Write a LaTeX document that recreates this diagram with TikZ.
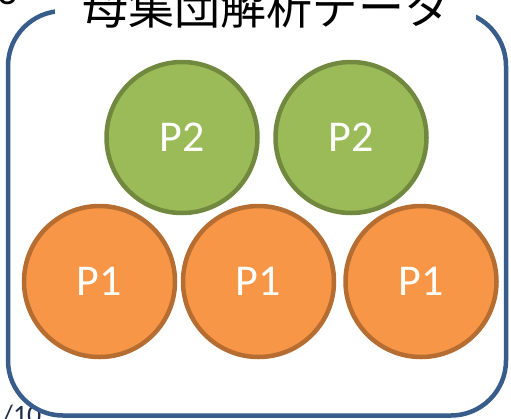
\documentclass[tikz,border=0pt]{standalone}
\usepackage{fontspec}
\newfontfamily\cjkfont{Noto Sans CJK JP}
\newfontfamily\califont{Carlito}
\definecolor{frameblue}{HTML}{385D8A}
\definecolor{gfill}{HTML}{9BBB59}
\definecolor{gline}{HTML}{71893F}
\definecolor{ofill}{HTML}{F79646}
\definecolor{oline}{HTML}{B66D31}
\definecolor{pagenum}{HTML}{1F2D4D}
\tikzset{
  ball/.style={circle, minimum size=151pt, inner sep=0pt, line width=4.5pt,
    text=white, font=\califont\fontsize{44}{48}\selectfont},
  pball/.style={ball, fill=ofill, draw=oline},
  gball/.style={ball, fill=gfill, draw=gline},
}
\begin{document}
\begin{tikzpicture}[x=1pt,y=-1pt]
\useasboundingbox (0,0) rectangle (511,418);
\fill[white] (0,0) rectangle (511,418);
% partial page texts
\node[anchor=base west, inner sep=0pt, font=\califont\fontsize{40}{44}\selectfont] (pg3) at (-3,4) {3};
\node[anchor=base west, inner sep=0pt, text=pagenum, font=\califont\fontsize{28}{32}\selectfont] (pg10) at (2,424) {/10};
% frame
\draw[frameblue, line width=4.5pt, rounded corners=55pt] (8,11) rectangle (506,415.5);
% title box
\fill[white] (55,-10) rectangle (476,26);
\node[anchor=base, inner sep=0pt, font=\cjkfont\fontsize{46}{50}\selectfont] (title) at (266.5,24) {母集団解析データ};
% circles
\node[gball] (g1) at (182,137.5) {P2};
\node[gball] (g2) at (351,137.5) {P2};
\node[pball] (o1) at (99.5,281.5) {P1};
\node[pball] (o2) at (258.5,281.5) {P1};
\node[pball] (o3) at (421,281.5) {P1};
\end{tikzpicture}
\end{document}
